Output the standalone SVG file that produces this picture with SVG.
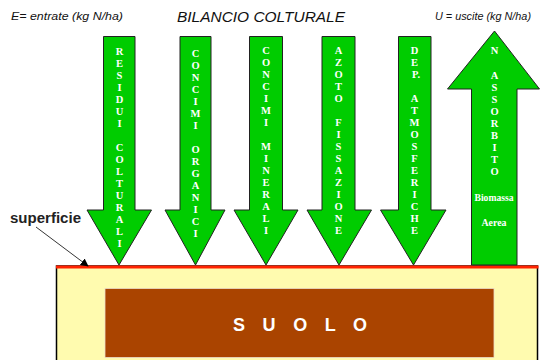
<svg xmlns="http://www.w3.org/2000/svg" width="542" height="360" viewBox="0 0 542 360">
<style>
.arrow{fill:#00CC00;stroke:#222;stroke-width:1}
.vt{font-family:"Liberation Serif","Times New Roman",serif;font-weight:bold;font-size:10.5px;fill:#fff;text-anchor:middle}
.hdr{font-family:"Liberation Sans",Arial,sans-serif;font-style:italic;fill:#111}
.bio{font-family:"Liberation Serif",serif;font-weight:bold;font-size:10.5px;fill:#fff;text-anchor:middle}
</style>
<defs>
<marker id="ah" viewBox="0 0 10 10" refX="9" refY="5" markerWidth="8" markerHeight="8" orient="auto" markerUnits="userSpaceOnUse">
<path d="M0,0 L10,5 L0,10 z" fill="#000"/>
</marker>
</defs>
<rect width="542" height="360" fill="#fff"/>

<text class="hdr" x="11" y="20" font-size="11" textLength="112" lengthAdjust="spacingAndGlyphs">E= entrate  (kg N/ha)</text>
<text class="hdr" x="177" y="22" font-size="15.5" textLength="168" lengthAdjust="spacingAndGlyphs">BILANCIO COLTURALE</text>
<text class="hdr" x="435" y="20" font-size="11" textLength="96" lengthAdjust="spacingAndGlyphs">U = uscite (kg N/ha)</text>

<g id="suolo">
<rect x="56.5" y="266" width="481" height="100" fill="#FFFBAF" stroke="#000" stroke-width="1.5"/>
<line x1="56" y1="267" x2="538.5" y2="267" stroke="#FF2200" stroke-width="3"/>
<rect x="105" y="288.5" width="389" height="69" fill="#AA4400" stroke="#EADCC8" stroke-width="0.8"/>
<text x="233" y="331" font-family="Liberation Sans,Arial,sans-serif" font-weight="bold" font-size="18" fill="#fff" textLength="134" lengthAdjust="spacing">S U O L O</text>
</g>

<g id="superficie">
<text x="10" y="223" font-family="Liberation Sans,Arial,sans-serif" font-weight="bold" font-size="14" fill="#222" textLength="71" lengthAdjust="spacingAndGlyphs">superficie</text>
</g>

<g id="connectors">
<line x1="36" y1="227" x2="88" y2="266" stroke="#000" stroke-width="0.8" marker-end="url(#ah)"/>
</g>

<g id="residui">
<polygon class="arrow" points="103.5,36.5 135,36.5 135,210 151.5,210 119,265 87,210 103.5,210"/>
<g class="vt">
<text x="119.5" y="55">R</text><text x="119.5" y="67">E</text><text x="119.5" y="79">S</text><text x="119.5" y="91">I</text><text x="119.5" y="103">D</text><text x="119.5" y="115">U</text><text x="119.5" y="127">I</text>
<text x="119.5" y="151">C</text><text x="119.5" y="163">O</text><text x="119.5" y="175">L</text><text x="119.5" y="187">T</text><text x="119.5" y="199">U</text><text x="119.5" y="211">R</text><text x="119.5" y="223">A</text><text x="119.5" y="235">L</text><text x="119.5" y="247">I</text>
</g>
</g>

<g id="organici">
<polygon class="arrow" points="180,36.5 211,36.5 211,210 225,210 195.5,265 165,210 180,210"/>
<g class="vt">
<text x="195.5" y="57">C</text><text x="195.5" y="69">O</text><text x="195.5" y="81">N</text><text x="195.5" y="93">C</text><text x="195.5" y="105">I</text><text x="195.5" y="117">M</text><text x="195.5" y="129">I</text>
<text x="195.5" y="153">O</text><text x="195.5" y="165">R</text><text x="195.5" y="177">G</text><text x="195.5" y="189">A</text><text x="195.5" y="201">N</text><text x="195.5" y="213">I</text><text x="195.5" y="225">C</text><text x="195.5" y="237">I</text>
</g>
</g>

<g id="minerali">
<polygon class="arrow" points="249.5,36.5 282.5,36.5 282.5,210 298,210 266,265 234,210 249.5,210"/>
<g class="vt">
<text x="266" y="54">C</text><text x="266" y="66">O</text><text x="266" y="78">N</text><text x="266" y="90">C</text><text x="266" y="102">I</text><text x="266" y="114">M</text><text x="266" y="126">I</text>
<text x="266" y="150">M</text><text x="266" y="162">I</text><text x="266" y="174">N</text><text x="266" y="186">E</text><text x="266" y="198">R</text><text x="266" y="210">A</text><text x="266" y="222">L</text><text x="266" y="234">I</text>
</g>
</g>

<g id="fissazione">
<polygon class="arrow" points="322,36.5 355,36.5 355,210 371.5,210 339,265 307,210 322,210"/>
<g class="vt">
<text x="338.5" y="54">A</text><text x="338.5" y="66">Z</text><text x="338.5" y="78">O</text><text x="338.5" y="90">T</text><text x="338.5" y="102">O</text>
<text x="338.5" y="126">F</text><text x="338.5" y="138">I</text><text x="338.5" y="150">S</text><text x="338.5" y="162">S</text><text x="338.5" y="174">A</text><text x="338.5" y="186">Z</text><text x="338.5" y="198">I</text><text x="338.5" y="210">O</text><text x="338.5" y="222">N</text><text x="338.5" y="234">E</text>
</g>
</g>

<g id="deposizioni">
<polygon class="arrow" points="398.5,36.5 431,36.5 431,210 446,210 413.5,265 380.5,210 398.5,210"/>
<g class="vt">
<text x="414.5" y="54">D</text><text x="414.5" y="66">E</text><text x="416" y="78">P.</text>
<text x="414.5" y="102">A</text><text x="414.5" y="114">T</text><text x="414.5" y="126">M</text><text x="414.5" y="138">O</text><text x="414.5" y="150">S</text><text x="414.5" y="162">F</text><text x="414.5" y="174">E</text><text x="414.5" y="186">R</text><text x="414.5" y="198">I</text><text x="414.5" y="210">C</text><text x="414.5" y="222">H</text><text x="414.5" y="234">E</text>
</g>
</g>

<g id="assorbito">
<polygon class="arrow" points="471.5,265 471.5,89 447.5,89 494.5,31 539.5,89 517,89 517,265"/>
<g class="vt">
<text x="494.5" y="54">N</text>
<text x="494.5" y="79">A</text><text x="494.5" y="91">S</text><text x="494.5" y="103">S</text><text x="494.5" y="115">O</text><text x="494.5" y="127">R</text><text x="494.5" y="139">B</text><text x="494.5" y="151">I</text><text x="494.5" y="163">T</text><text x="494.5" y="175">O</text>
</g>
<text class="bio" x="494" y="200.5" textLength="39" lengthAdjust="spacingAndGlyphs">Biomassa</text>
<text class="bio" x="494" y="225.5" textLength="25" lengthAdjust="spacingAndGlyphs">Aerea</text>
</g>
</svg>
